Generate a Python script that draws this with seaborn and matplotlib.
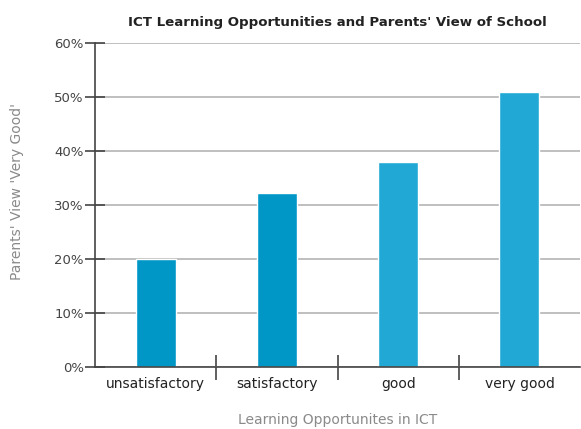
import matplotlib
matplotlib.use("Agg")
import matplotlib.pyplot as plt
import seaborn as sns
import pandas as pd
from matplotlib.ticker import FixedLocator, PercentFormatter

categories = ["unsatisfactory", "satisfactory", "good", "very good"]
values = [20.0, 32.3, 37.9, 50.9]
colors = ["#0097c7", "#0097c7", "#22a8d5", "#22a8d5"]
yticks = [0, 10, 20, 30, 40, 50, 60]

sns.set_theme(style="white")
plt.rcParams['font.family'] = ['DejaVu Sans']

df = pd.DataFrame({"cat": categories, "val": values})

fig = plt.figure(figsize=(5.81, 4.29), dpi=100)
ax = fig.add_axes([0.1635, 0.1445, 0.835, 0.7555])

sns.barplot(data=df, x="cat", y="val", hue="cat", palette=colors,
            width=0.33, legend=False, ax=ax, saturation=1)

ax.set_ylim(0, 60)
ax.set_xlim(-0.5, 3.5)
ax.set_yticks(yticks)
ax.yaxis.set_major_formatter(PercentFormatter(decimals=0))
ax.grid(axis="y", color="#b4b4b4", linewidth=1.2, zorder=0)
ax.set_axisbelow(True)

for s in ["top", "right"]:
    ax.spines[s].set_visible(False)
for s in ["left", "bottom"]:
    ax.spines[s].set_color("#444444")
    ax.spines[s].set_linewidth(1.2)

ax.tick_params(axis="y", direction="inout", length=14, width=1.2,
               color="#444444", labelsize=9.5, labelcolor="#444444", pad=1, left=True)
ax.tick_params(axis="x", which="major", length=0, labelsize=10,
               labelcolor="#222222", pad=7)
ax.xaxis.set_minor_locator(FixedLocator([0.5, 1.5, 2.5]))
ax.tick_params(axis="x", which="minor", direction="inout", length=18,
               width=1.2, color="#444444", bottom=True)

ax.set_xlabel("Learning Opportunites in ICT", fontsize=10, color="#8a8a8a", labelpad=16)
ax.set_ylabel("Parents' View 'Very Good'", fontsize=10, color="#8a8a8a")
ax.yaxis.set_label_coords(-0.146, 0.54)
ax.set_title("ICT Learning Opportunities and Parents' View of School",
             fontsize=9.6, fontweight="bold", color="#222222", pad=12)

fig.savefig("out.png", dpi=100)
